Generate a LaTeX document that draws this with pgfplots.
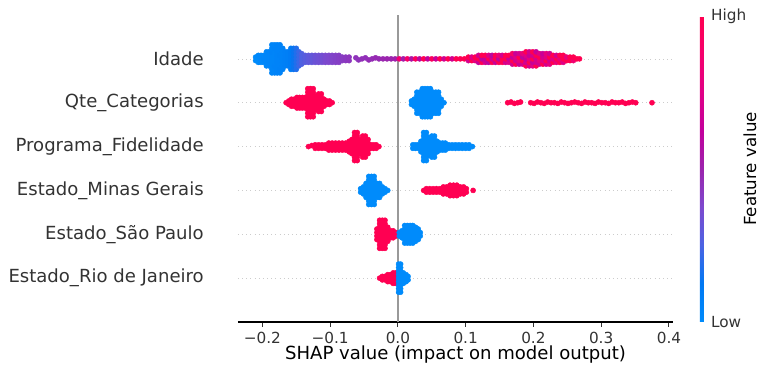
\documentclass[border=0pt]{standalone}
\usepackage{pgfplots}
\pgfplotsset{compat=1.18}
\usepackage{fontspec}
\setmainfont{DejaVu Sans}
\definecolor{shapred}{RGB}{255,0,82}
\definecolor{shapblue}{RGB}{0,139,251}
\definecolor{axgray}{HTML}{333333}
\definecolor{zerogray}{HTML}{999999}
\definecolor{rowgray}{HTML}{CCCCCC}
\pgfplotsset{
  reddot/.style={only marks, mark=*, mark size=1.85pt, color=shapred, mark options={line width=0.3pt, draw=shapred, fill=shapred}},
  bluedot/.style={only marks, mark=*, mark size=1.85pt, color=shapblue, mark options={line width=0.3pt, draw=shapblue, fill=shapblue}},
  rowline/.style={rowgray, line width=0.5pt, dash pattern=on 0.5pt off 2.5pt},
}
\begin{document}
\begin{tikzpicture}
\path[use as bounding box] (-171.36pt,-41.76pt) rectangle (383.04pt,231.84pt);
\begin{axis}[
  at={(0pt,0pt)}, anchor=south west,
  scale only axis, width=313.2pt, height=221.04pt,
  xmin=-0.236, xmax=0.406, ymin=0, ymax=7,
  axis x line*=bottom, axis y line*=left,
  x axis line style={black, line width=0.8pt, -},
  y axis line style={draw=none},
  xtick={-0.2,-0.1,0,0.1,0.2,0.3,0.4},
  xticklabels={−0.2,−0.1,0.0,0.1,0.2,0.3,0.4},
  xtick align=outside,
  xtick style={axgray, line width=0.8pt},
  major tick length=3.5pt,
  xticklabel style={font=\fontsize{11}{13}\selectfont, text=axgray},
  ytick={1,2,3,4,5,6},
  yticklabels={Estado\_Rio de Janeiro, Estado\_São Paulo, Estado\_Minas Gerais, Programa\_Fidelidade, Qte\_Categorias, Idade},
  ytick style={draw=none},
  yticklabel style={font=\fontsize{13}{15}\selectfont, text=axgray, anchor=east, inner sep=0pt, xshift=-24.5pt},
  xlabel={SHAP value (impact on model output)},
  xlabel style={font=\fontsize{13}{15}\selectfont, at={(axis description cs:0.5,-0.107)}, anchor=center},
  colormap={shap}{rgb255=(0,139,251) rgb255=(0,120,243) rgb255=(75,99,227) rgb255=(125,73,206) rgb255=(155,36,173) rgb255=(194,0,156) rgb255=(224,0,134) rgb255=(245,0,109) rgb255=(255,0,81)},
  point meta min=0, point meta max=1,
  colorbar right,
  colorbar style={
    scale only axis,
    at={(parent axis.north east)}, anchor=north west, xshift=10.8pt, yshift=-0.72pt,
    width=2.9pt, height=220.3pt,
    axis line style={draw=none},
    ytick={0,1}, yticklabels={Low,High},
    major tick length=0pt,
    ytick style={draw=none},
    yticklabel style={font=\fontsize{11}{13}\selectfont, text=axgray, anchor=west, inner sep=0pt, xshift=5pt},
    ylabel={Feature value},
    ylabel style={font=\fontsize{12}{14}\selectfont, at={(axis description cs:12.4,0.5)}, anchor=center},
  },
  clip=false,
]
% background guide lines
\addplot[rowline] coordinates {(-0.236,1) (0.406,1)};
\addplot[rowline] coordinates {(-0.236,2) (0.406,2)};
\addplot[rowline] coordinates {(-0.236,3) (0.406,3)};
\addplot[rowline] coordinates {(-0.236,4) (0.406,4)};
\addplot[rowline] coordinates {(-0.236,5) (0.406,5)};
\addplot[rowline] coordinates {(-0.236,6) (0.406,6)};
\addplot[zerogray, line width=1.5pt] coordinates {(0,0) (0,7)};

% ---- Idade (row 6), coloured by feature value
\addplot[scatter, only marks, mark=*, mark size=1.85pt, mark options={line width=0.3pt}, scatter/use mapped color={draw=mapped color, fill=mapped color}, point meta=explicit]
table[row sep=\\, x=x, y expr=6+0.08*\thisrow{d}, meta=c] {
x d c\\
-0.210 -0.5 0\\ -0.210 0.5 0\\
-0.206 -1 0\\ -0.206 0 0\\ -0.206 1 0.02\\
-0.202 -1 0.02\\ -0.202 0 0.02\\ -0.202 1 0.02\\
-0.198 -1 0.02\\ -0.198 0 0.03\\ -0.198 1 0.02\\
-0.194 -2 0.03\\ -0.194 -1 0.03\\ -0.194 0 0.03\\ -0.194 1 0.03\\ -0.194 2 0.03\\
-0.190 -2 0.03\\ -0.190 -1 0.04\\ -0.190 0 0.03\\ -0.190 1 0.03\\ -0.190 2 0.04\\
-0.186 -4 0.04\\ -0.186 -3 0.04\\ -0.186 -2 0.04\\ -0.186 -1 0.04\\ -0.186 0 0.04\\ -0.186 1 0.04\\ -0.186 2 0.05\\ -0.186 3 0.04\\ -0.186 4 0.04\\
-0.182 -4 0.04\\ -0.182 -3 0.04\\ -0.182 -2 0.05\\ -0.182 -1 0.04\\ -0.182 0 0.04\\ -0.182 1 0.04\\ -0.182 2 0.04\\ -0.182 3 0.05\\ -0.182 4 0.04\\
-0.178 -4 0.05\\ -0.178 -3 0.05\\ -0.178 -2 0.05\\ -0.178 -1 0.05\\ -0.178 0 0.05\\ -0.178 1 0.05\\ -0.178 2 0.05\\ -0.178 3 0.05\\ -0.178 4 0.05\\
-0.174 -4 0.05\\ -0.174 -3 0.06\\ -0.174 -2 0.05\\ -0.174 -1 0.05\\ -0.174 0 0.05\\ -0.174 1 0.06\\ -0.174 2 0.05\\ -0.174 3 0.05\\ -0.174 4 0.05\\
-0.170 -3 0.06\\ -0.170 -2 0.06\\ -0.170 -1 0.06\\ -0.170 0 0.06\\ -0.170 1 0.06\\ -0.170 2 0.06\\ -0.170 3 0.06\\
-0.166 -2 0.07\\ -0.166 -1 0.07\\ -0.166 0 0.07\\ -0.166 1 0.07\\ -0.166 2 0.07\\
-0.162 -2 0.08\\ -0.162 -1 0.08\\ -0.162 0 0.08\\ -0.162 1 0.08\\ -0.162 2 0.08\\
-0.158 -3 0.10\\ -0.158 -2 0.10\\ -0.158 -1 0.10\\ -0.158 0 0.10\\ -0.158 1 0.10\\ -0.158 2 0.10\\ -0.158 3 0.10\\
-0.154 -3 0.14\\ -0.154 -2 0.14\\ -0.154 -1 0.14\\ -0.154 0 0.14\\ -0.154 1 0.14\\ -0.154 2 0.14\\ -0.154 3 0.14\\
-0.150 -3 0.18\\ -0.150 -2 0.18\\ -0.150 -1 0.18\\ -0.150 0 0.18\\ -0.150 1 0.18\\ -0.150 2 0.18\\ -0.150 3 0.18\\
-0.146 -2 0.22\\ -0.146 -1 0.22\\ -0.146 0 0.22\\ -0.146 1 0.22\\ -0.146 2 0.22\\
-0.142 -1.5 0.26\\ -0.142 -0.5 0.26\\ -0.142 0.5 0.26\\ -0.142 1.5 0.26\\
-0.137 -1 0.28\\ -0.137 0 0.28\\ -0.137 1 0.28\\
-0.132 -1 0.30\\ -0.132 0 0.30\\ -0.132 1 0.30\\
-0.127 -1 0.31\\ -0.127 0 0.31\\ -0.127 1 0.31\\
-0.122 -1 0.33\\ -0.122 0 0.33\\ -0.122 1 0.33\\
-0.117 -1 0.34\\ -0.117 0 0.34\\ -0.117 1 0.34\\
-0.112 -1 0.35\\ -0.112 0 0.35\\ -0.112 1 0.35\\
-0.107 -1 0.37\\ -0.107 0 0.37\\ -0.107 1 0.37\\
-0.102 -1 0.38\\ -0.102 0 0.38\\ -0.102 1 0.38\\
-0.097 -1 0.39\\ -0.097 0 0.39\\ -0.097 1 0.39\\
-0.092 -1 0.40\\ -0.092 0 0.40\\ -0.092 1 0.40\\
-0.087 -1 0.41\\ -0.087 0 0.41\\ -0.087 1 0.41\\
-0.082 -0.5 0.42\\ -0.082 0.5 0.42\\
-0.077 -0.5 0.43\\ -0.077 0.5 0.43\\
-0.072 -0.5 0.44\\ -0.072 0.5 0.44\\
-0.062 0.3 0.45\\ -0.058 -0.3 0.45\\ -0.053 0 0.46\\ -0.048 0.3 0.46\\ -0.043 -0.3 0.47\\
-0.038 0 0.47\\ -0.033 0.3 0.48\\ -0.028 0 0.48\\ -0.022 0 0.49\\ -0.016 0 0.50\\
-0.010 0 0.50\\ -0.004 0 0.51\\ 0.002 0 0.85\\ 0.008 0 0.53\\ 0.014 0 0.90\\
0.020 0 0.56\\ 0.026 0 0.95\\ 0.032 0 0.60\\ 0.038 0 1\\ 0.044 0 0.62\\
0.050 0 0.95\\ 0.056 0 0.65\\ 0.062 0 1\\ 0.068 0 0.68\\ 0.074 0 1\\
0.080 0 0.70\\ 0.086 0 1\\ 0.092 0 0.98\\ 0.098 0 1\\
0.104 -0.5 0.70\\ 0.104 0.5 1\\
0.109 -0.5 1\\ 0.109 0.5 0.75\\
0.114 -0.5 0.80\\ 0.114 0.5 1\\
0.119 -1 0.65\\ 0.119 0 1\\ 0.119 1 0.70\\
0.124 -1 1\\ 0.124 0 0.60\\ 0.124 1 1\\
0.129 -1 0.70\\ 0.129 0 0.65\\ 0.129 1 1\\
0.134 -1 0.60\\ 0.134 0 1\\ 0.134 1 0.75\\
0.139 -1 1\\ 0.139 0 0.70\\ 0.139 1 0.60\\
0.144 -1 0.65\\ 0.144 0 1\\ 0.144 1 1\\
0.149 -1 1\\ 0.149 0 0.60\\ 0.149 1 0.80\\
0.154 -1 1\\ 0.154 0 1\\ 0.154 1 0.70\\
0.159 -1 0.70\\ 0.159 0 1\\ 0.159 1 1\\
0.164 -1 0.75\\ 0.164 0 0.65\\ 0.164 1 1\\
0.169 -1.5 0.70\\ 0.169 -0.5 1\\ 0.169 0.5 0.65\\ 0.169 1.5 0.90\\
0.174 -1.5 1\\ 0.174 -0.5 0.70\\ 0.174 0.5 0.75\\ 0.174 1.5 0.65\\
0.179 -1.5 0.65\\ 0.179 -0.5 0.80\\ 0.179 0.5 1\\ 0.179 1.5 0.70\\
0.184 -1.5 0.70\\ 0.184 -0.5 1\\ 0.184 0.5 0.60\\ 0.184 1.5 0.80\\
0.189 -2 1\\ 0.189 -1 0.70\\ 0.189 0 0.65\\ 0.189 1 0.75\\ 0.189 2 1\\
0.194 -2 0.70\\ 0.194 -1 1\\ 0.194 0 0.80\\ 0.194 1 0.65\\ 0.194 2 0.70\\
0.199 -2 0.75\\ 0.199 -1 0.65\\ 0.199 0 1\\ 0.199 1 0.70\\ 0.199 2 1\\
0.204 -2 1\\ 0.204 -1 0.70\\ 0.204 0 0.70\\ 0.204 1 1\\ 0.204 2 0.65\\
0.209 -1.5 0.70\\ 0.209 -0.5 0.80\\ 0.209 0.5 1\\ 0.209 1.5 0.75\\
0.214 -1.5 1\\ 0.214 -0.5 0.75\\ 0.214 0.5 0.70\\ 0.214 1.5 0.65\\
0.219 -1.5 0.70\\ 0.219 -0.5 1\\ 0.219 0.5 0.75\\ 0.219 1.5 0.80\\
0.224 -1.5 0.80\\ 0.224 -0.5 0.70\\ 0.224 0.5 1\\ 0.224 1.5 0.70\\
0.229 -1 1\\ 0.229 0 0.75\\ 0.229 1 1\\
0.234 -1 0.80\\ 0.234 0 1\\ 0.234 1 0.70\\
0.239 -1 1\\ 0.239 0 0.80\\ 0.239 1 1\\
0.244 -1 0.75\\ 0.244 0 1\\ 0.244 1 1\\
0.249 -0.5 1\\ 0.249 0.5 0.80\\
0.254 -0.5 1\\ 0.254 0.5 1\\
0.259 -0.5 0.85\\ 0.259 0.5 1\\
0.264 0 1\\ 0.268 0 1\\
};

% ---- Qte_Categorias (row 5)
\addplot[reddot] table[row sep=\\, x=x, y expr=5+0.08*\thisrow{d}] {
x d\\
-0.165 0\\ -0.161 -0.5\\ -0.161 0.5\\
-0.157 -1\\ -0.157 0\\ -0.157 1\\ -0.153 -1\\ -0.153 0\\ -0.153 1\\
-0.149 -1.5\\ -0.149 -0.5\\ -0.149 0.5\\ -0.149 1.5\\
-0.145 -1.5\\ -0.145 -0.5\\ -0.145 0.5\\ -0.145 1.5\\
-0.141 -1.5\\ -0.141 -0.5\\ -0.141 0.5\\ -0.141 1.5\\
-0.137 -1.5\\ -0.137 -0.5\\ -0.137 0.5\\ -0.137 1.5\\
-0.133 -4\\ -0.133 -3\\ -0.133 -2\\ -0.133 -1\\ -0.133 0\\ -0.133 1\\ -0.133 2\\ -0.133 3\\ -0.133 4\\
-0.129 -4\\ -0.129 -3\\ -0.129 -2\\ -0.129 -1\\ -0.129 0\\ -0.129 1\\ -0.129 2\\ -0.129 3\\ -0.129 4\\
-0.125 -4\\ -0.125 -3\\ -0.125 -2\\ -0.125 -1\\ -0.125 0\\ -0.125 1\\ -0.125 2\\ -0.125 3\\ -0.125 4\\
-0.121 -2\\ -0.121 -1\\ -0.121 0\\ -0.121 1\\ -0.121 2\\
-0.117 -2.5\\ -0.117 -1.5\\ -0.117 -0.5\\ -0.117 0.5\\ -0.117 1.5\\ -0.117 2.5\\
-0.113 -2.5\\ -0.113 -1.5\\ -0.113 -0.5\\ -0.113 0.5\\ -0.113 1.5\\ -0.113 2.5\\
-0.109 -1\\ -0.109 0\\ -0.109 1\\
-0.105 -0.5\\ -0.105 0.5\\ -0.101 -0.5\\ -0.101 0.5\\ -0.097 0\\
0.162 0\\ 0.167 0.2\\ 0.172 -0.2\\ 0.177 0\\ 0.181 0.2\\
0.196 0\\ 0.201 -0.2\\ 0.206 0.2\\ 0.211 0\\ 0.216 -0.2\\ 0.221 0.2\\ 0.226 0\\
0.231 0\\ 0.236 -0.2\\ 0.241 0.2\\ 0.246 0\\ 0.251 -0.2\\ 0.256 0\\ 0.261 0.2\\
0.266 0\\ 0.271 -0.2\\ 0.276 0.2\\ 0.281 0\\ 0.286 0\\ 0.291 -0.2\\ 0.296 0.2\\
0.301 0\\ 0.306 0\\ 0.311 -0.2\\ 0.316 0.2\\ 0.321 0\\ 0.326 0\\ 0.331 0.2\\
0.336 -0.2\\ 0.341 0\\ 0.346 0.2\\ 0.351 0\\ 0.375 0\\
};
\addplot[bluedot] table[row sep=\\, x=x, y expr=5+0.08*\thisrow{d}] {
x d\\
0.020 -0.5\\ 0.020 0.5\\ 0.024 -1\\ 0.024 0\\ 0.024 1\\
0.028 -3\\ 0.028 -2\\ 0.028 -1\\ 0.028 0\\ 0.028 1\\ 0.028 2\\ 0.028 3\\
0.032 -3\\ 0.032 -2\\ 0.032 -1\\ 0.032 0\\ 0.032 1\\ 0.032 2\\ 0.032 3\\
0.036 -4\\ 0.036 -3\\ 0.036 -2\\ 0.036 -1\\ 0.036 0\\ 0.036 1\\ 0.036 2\\ 0.036 3\\ 0.036 4\\
0.040 -4\\ 0.040 -3\\ 0.040 -2\\ 0.040 -1\\ 0.040 0\\ 0.040 1\\ 0.040 2\\ 0.040 3\\ 0.040 4\\
0.044 -4\\ 0.044 -3\\ 0.044 -2\\ 0.044 -1\\ 0.044 0\\ 0.044 1\\ 0.044 2\\ 0.044 3\\ 0.044 4\\
0.048 -4\\ 0.048 -3\\ 0.048 -2\\ 0.048 -1\\ 0.048 0\\ 0.048 1\\ 0.048 2\\ 0.048 3\\ 0.048 4\\
0.052 -3\\ 0.052 -2\\ 0.052 -1\\ 0.052 0\\ 0.052 1\\ 0.052 2\\ 0.052 3\\
0.056 -3\\ 0.056 -2\\ 0.056 -1\\ 0.056 0\\ 0.056 1\\ 0.056 2\\ 0.056 3\\
0.060 -3\\ 0.060 -2\\ 0.060 -1\\ 0.060 0\\ 0.060 1\\ 0.060 2\\ 0.060 3\\
0.064 -1\\ 0.064 0\\ 0.064 1\\ 0.068 0\\
};

% ---- Programa_Fidelidade (row 4)
\addplot[reddot] table[row sep=\\, x=x, y expr=4+0.08*\thisrow{d}] {
x d\\
-0.132 0\\ -0.127 0.3\\
-0.122 -0.5\\ -0.122 0.5\\ -0.117 -0.5\\ -0.117 0.5\\ -0.112 -0.5\\ -0.112 0.5\\ -0.107 -0.5\\ -0.107 0.5\\
-0.102 -1\\ -0.102 0\\ -0.102 1\\ -0.097 -1\\ -0.097 0\\ -0.097 1\\ -0.092 -1\\ -0.092 0\\ -0.092 1\\
-0.087 -1\\ -0.087 0\\ -0.087 1\\ -0.082 -1\\ -0.082 0\\ -0.082 1\\ -0.077 -1\\ -0.077 0\\ -0.077 1\\
-0.072 -1.5\\ -0.072 -0.5\\ -0.072 0.5\\ -0.072 1.5\\
-0.068 -2\\ -0.068 -1\\ -0.068 0\\ -0.068 1\\ -0.068 2\\
-0.064 -4\\ -0.064 -3\\ -0.064 -2\\ -0.064 -1\\ -0.064 0\\ -0.064 1\\ -0.064 2\\ -0.064 3\\ -0.064 4\\
-0.060 -4\\ -0.060 -3\\ -0.060 -2\\ -0.060 -1\\ -0.060 0\\ -0.060 1\\ -0.060 2\\ -0.060 3\\ -0.060 4\\
-0.056 -2\\ -0.056 -1\\ -0.056 0\\ -0.056 1\\ -0.056 2\\
-0.052 -3\\ -0.052 -2\\ -0.052 -1\\ -0.052 0\\ -0.052 1\\ -0.052 2\\ -0.052 3\\
-0.048 -3\\ -0.048 -2\\ -0.048 -1\\ -0.048 0\\ -0.048 1\\ -0.048 2\\ -0.048 3\\
-0.044 -2\\ -0.044 -1\\ -0.044 0\\ -0.044 1\\ -0.044 2\\
-0.040 -0.5\\ -0.040 0.5\\ -0.036 -0.5\\ -0.036 0.5\\ -0.032 -0.5\\ -0.032 0.5\\ -0.028 0\\
};
\addplot[bluedot] table[row sep=\\, x=x, y expr=4+0.08*\thisrow{d}] {
x d\\
0.022 -0.5\\ 0.022 0.5\\ 0.026 -0.5\\ 0.026 0.5\\ 0.030 -0.5\\ 0.030 0.5\\
0.034 -1.5\\ 0.034 -0.5\\ 0.034 0.5\\ 0.034 1.5\\
0.038 -4\\ 0.038 -3\\ 0.038 -2\\ 0.038 -1\\ 0.038 0\\ 0.038 1\\ 0.038 2\\ 0.038 3\\ 0.038 4\\
0.042 -4\\ 0.042 -3\\ 0.042 -2\\ 0.042 -1\\ 0.042 0\\ 0.042 1\\ 0.042 2\\ 0.042 3\\ 0.042 4\\
0.046 -2.5\\ 0.046 -1.5\\ 0.046 -0.5\\ 0.046 0.5\\ 0.046 1.5\\ 0.046 2.5\\
0.050 -3\\ 0.050 -2\\ 0.050 -1\\ 0.050 0\\ 0.050 1\\ 0.050 2\\ 0.050 3\\
0.054 -3\\ 0.054 -2\\ 0.054 -1\\ 0.054 0\\ 0.054 1\\ 0.054 2\\ 0.054 3\\
0.058 -1.5\\ 0.058 -0.5\\ 0.058 0.5\\ 0.058 1.5\\
0.062 -1\\ 0.062 0\\ 0.062 1\\ 0.066 -1\\ 0.066 0\\ 0.066 1\\ 0.070 -1\\ 0.070 0\\ 0.070 1\\
0.075 -0.5\\ 0.075 0.5\\ 0.080 -0.5\\ 0.080 0.5\\ 0.085 -0.5\\ 0.085 0.5\\ 0.090 -0.5\\ 0.090 0.5\\
0.095 -0.5\\ 0.095 0.5\\ 0.100 -0.5\\ 0.100 0.5\\ 0.105 -0.5\\ 0.105 0.5\\ 0.110 0\\
};

% ---- Estado_Minas Gerais (row 3)
\addplot[bluedot] table[row sep=\\, x=x, y expr=3+0.08*\thisrow{d}] {
x d\\
-0.055 -0.5\\ -0.055 0.5\\ -0.051 -1\\ -0.051 0\\ -0.051 1\\
-0.047 -2\\ -0.047 -1\\ -0.047 0\\ -0.047 1\\ -0.047 2\\
-0.043 -4\\ -0.043 -3\\ -0.043 -2\\ -0.043 -1\\ -0.043 0\\ -0.043 1\\ -0.043 2\\ -0.043 3\\ -0.043 4\\
-0.039 -4\\ -0.039 -3\\ -0.039 -2\\ -0.039 -1\\ -0.039 0\\ -0.039 1\\ -0.039 2\\ -0.039 3\\ -0.039 4\\
-0.035 -4\\ -0.035 -3\\ -0.035 -2\\ -0.035 -1\\ -0.035 0\\ -0.035 1\\ -0.035 2\\ -0.035 3\\ -0.035 4\\
-0.031 -2\\ -0.031 -1\\ -0.031 0\\ -0.031 1\\ -0.031 2\\
-0.027 -2\\ -0.027 -1\\ -0.027 0\\ -0.027 1\\ -0.027 2\\
-0.023 -1\\ -0.023 0\\ -0.023 1\\ -0.019 -0.5\\ -0.019 0.5\\ -0.015 0\\
};
\addplot[reddot] table[row sep=\\, x=x, y expr=3+0.08*\thisrow{d}] {
x d\\
0.038 0\\ 0.042 -0.5\\ 0.042 0.5\\ 0.047 -0.5\\ 0.047 0.5\\ 0.052 -0.5\\ 0.052 0.5\\
0.057 -0.5\\ 0.057 0.5\\ 0.062 -0.5\\ 0.062 0.5\\
0.067 -1\\ 0.067 0\\ 0.067 1\\ 0.072 -1\\ 0.072 0\\ 0.072 1\\
0.077 -1.5\\ 0.077 -0.5\\ 0.077 0.5\\ 0.077 1.5\\
0.082 -1.5\\ 0.082 -0.5\\ 0.082 0.5\\ 0.082 1.5\\
0.087 -1.5\\ 0.087 -0.5\\ 0.087 0.5\\ 0.087 1.5\\
0.092 -1\\ 0.092 0\\ 0.092 1\\ 0.097 -1\\ 0.097 0\\ 0.097 1\\
0.101 -0.5\\ 0.101 0.5\\ 0.111 0\\
};

% ---- Estado_São Paulo (row 2)
\addplot[reddot] table[row sep=\\, x=x, y expr=2+0.08*\thisrow{d}] {
x d\\
-0.031 -1.5\\ -0.031 -0.5\\ -0.031 0.5\\ -0.031 1.5\\
-0.027 -4\\ -0.027 -3\\ -0.027 -2\\ -0.027 -1\\ -0.027 0\\ -0.027 1\\ -0.027 2\\ -0.027 3\\ -0.027 4\\
-0.023 -4\\ -0.023 -3\\ -0.023 -2\\ -0.023 -1\\ -0.023 0\\ -0.023 1\\ -0.023 2\\ -0.023 3\\ -0.023 4\\
-0.019 -4\\ -0.019 -3\\ -0.019 -2\\ -0.019 -1\\ -0.019 0\\ -0.019 1\\ -0.019 2\\ -0.019 3\\ -0.019 4\\
-0.015 -2\\ -0.015 -1\\ -0.015 0\\ -0.015 1\\ -0.015 2\\
-0.011 -1\\ -0.011 0\\ -0.011 1\\ -0.007 -1\\ -0.007 0\\ -0.007 1\\
-0.003 -0.5\\ -0.003 0.5\\
};
\addplot[bluedot] table[row sep=\\, x=x, y expr=2+0.08*\thisrow{d}] {
x d\\
0.002 -0.5\\ 0.002 0.5\\ 0.006 -1\\ 0.006 0\\ 0.006 1\\
0.010 -2.5\\ 0.010 -1.5\\ 0.010 -0.5\\ 0.010 0.5\\ 0.010 1.5\\ 0.010 2.5\\
0.014 -2.5\\ 0.014 -1.5\\ 0.014 -0.5\\ 0.014 0.5\\ 0.014 1.5\\ 0.014 2.5\\
0.018 -2.5\\ 0.018 -1.5\\ 0.018 -0.5\\ 0.018 0.5\\ 0.018 1.5\\ 0.018 2.5\\
0.022 -2.5\\ 0.022 -1.5\\ 0.022 -0.5\\ 0.022 0.5\\ 0.022 1.5\\ 0.022 2.5\\
0.026 -2\\ 0.026 -1\\ 0.026 0\\ 0.026 1\\ 0.026 2\\
0.030 -1.5\\ 0.030 -0.5\\ 0.030 0.5\\ 0.030 1.5\\
0.033 -0.5\\ 0.033 0.5\\
};

% ---- Estado_Rio de Janeiro (row 1)
\addplot[reddot] table[row sep=\\, x=x, y expr=1+0.08*\thisrow{d}] {
x d\\
-0.027 0\\ -0.023 -0.5\\ -0.023 0.5\\ -0.019 -0.5\\ -0.019 0.5\\
-0.015 -1\\ -0.015 0\\ -0.015 1\\ -0.011 -1\\ -0.011 0\\ -0.011 1\\
-0.007 -1.5\\ -0.007 -0.5\\ -0.007 0.5\\ -0.007 1.5\\
-0.003 -1.5\\ -0.003 -0.5\\ -0.003 0.5\\ -0.003 1.5\\
};
\addplot[bluedot] table[row sep=\\, x=x, y expr=1+0.08*\thisrow{d}] {
x d\\
0.001 -4\\ 0.001 -3\\ 0.001 -2\\ 0.001 -1\\ 0.001 0\\ 0.001 1\\ 0.001 2\\ 0.001 3\\ 0.001 4\\
0.004 -4\\ 0.004 -3\\ 0.004 -2\\ 0.004 -1\\ 0.004 0\\ 0.004 1\\ 0.004 2\\ 0.004 3\\ 0.004 4\\
0.008 -1.5\\ 0.008 -0.5\\ 0.008 0.5\\ 0.008 1.5\\
0.012 -1\\ 0.012 0\\ 0.012 1\\ 0.015 -0.5\\ 0.015 0.5\\
};
\end{axis}
\end{tikzpicture}
\end{document}
